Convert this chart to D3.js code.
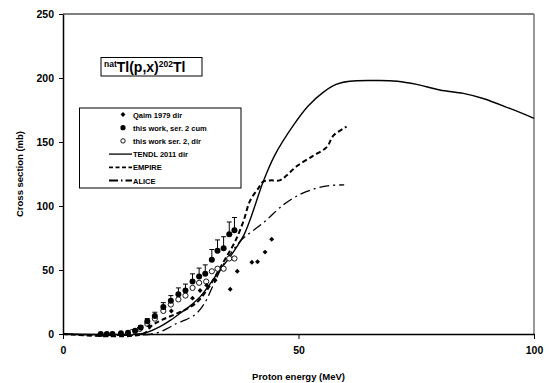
<!DOCTYPE html>
<html>
<head>
<meta charset="utf-8">
<script src="https://cdn.jsdelivr.net/npm/d3@7"></script>
<style>
  body { margin: 0; background: #fff; }
  text { font-family: "Liberation Sans", Arial, sans-serif; font-weight: bold; }
</style>
</head>
<body>
<div id="chart"></div>
<script>
// Qaim 1979 dir: [energy MeV, cross section mb]
const qaim = [
  [18.3, 6], [23, 18], [27.5, 28], [29.1, 34], [30.5, 38], [32.3, 42],
  [35.5, 35], [37, 49], [40.1, 56], [41.3, 56.5], [42.9, 64], [44.3, 74]
];
// this work, ser. 2 cum: [energy, cross section, uncertainty]
const cumData = [
  [8.0, 0, 0], [9.3, 0, 0], [10.5, 0, 0], [12.3, 0.5, 0], [13.8, 1, 0.5],
  [15.3, 2.5, 1], [16.5, 5, 1.5], [17.9, 10, 2], [19.5, 14, 3], [21.3, 21, 3.5],
  [22.9, 26, 4], [24.5, 31, 5], [26, 34, 5], [27.5, 41, 6], [28.9, 45, 6.5],
  [30.2, 47, 7], [31.6, 58, 8], [32.8, 65, 8.5], [34.1, 67, 9], [35.3, 78, 9.5],
  [36.4, 81, 10]
];
// this work ser. 2, dir
const dirData = [
  [14.6, 1.5], [16.3, 4], [17.9, 8], [19.5, 12], [21.3, 18], [22.9, 23],
  [24.5, 27], [26, 30], [27.5, 36], [28.9, 40], [30.4, 41], [31.6, 49],
  [32.8, 51], [34.1, 51], [35.3, 59], [36.4, 59]
];
// TENDL 2011 dir
const tendl = [
  [0, 0], [16, 0], [18, 1.5], [20.6, 5.7], [22.5, 10], [24.8, 16], [27, 22],
  [29.1, 29], [31, 38], [33.3, 50], [35, 58], [36.9, 68], [38.5, 78], [39.7, 89],
  [41, 103], [42.5, 119], [45, 140], [48.9, 163], [52, 178], [55.3, 189],
  [58, 195], [60.9, 197.5], [66.6, 198], [71, 197.5], [75.1, 195], [80, 190.6],
  [85, 188], [89.2, 184], [95, 176], [100, 168.5]
];
// EMPIRE
const empire = [
  [0, 0], [17, 0], [19, 7], [21, 11], [23.5, 15], [26, 19], [28.5, 25], [30.5, 34],
  [32.5, 46], [34.5, 59], [36.5, 72], [38.3, 88], [39.7, 104], [41.5, 114],
  [42.5, 119], [44, 120], [46, 120], [47.5, 124], [49.6, 131], [53, 139],
  [56, 146], [57.4, 155], [60.2, 162]
];
// ALICE
const alice = [
  [0, 0], [19, 0], [22, 4], [24, 8], [26, 11], [28, 15], [29.5, 21], [30.5, 27],
  [32, 39], [34, 54], [36, 65], [38, 74], [39.7, 79], [41.5, 84], [43.2, 89],
  [46.8, 101], [50.3, 109], [53.9, 114], [56.7, 116], [59.7, 116.5]
];

const xTicks = [0, 50, 100];
const yTicks = [0, 50, 100, 150, 200, 250];

const legendItems = [
  { label: "Qaim 1979 dir", kind: "diamond" },
  { label: "this work, ser. 2 cum", kind: "filled" },
  { label: "this work ser. 2, dir", kind: "open" },
  { label: "TENDL 2011 dir", kind: "line", dash: null },
  { label: "EMPIRE", kind: "line", dash: "4,2.5" },
  { label: "ALICE", kind: "line", dash: "9,3,1.5,3" }
];

const margin = { top: 14, right: 16, bottom: 49, left: 63 };
const W = 550, H = 383;
const width = W - margin.left - margin.right;
const height = H - margin.top - margin.bottom;

const svg = d3.select("#chart").append("svg")
  .attr("width", W)
  .attr("height", H);

const g = svg.append("g")
  .attr("transform", `translate(${margin.left},${margin.top})`);

const x = d3.scaleLinear().domain([0, 100]).range([0, width]);
const y = d3.scaleLinear().domain([0, 250]).range([height, 0]);

// frame (top + right)
g.append("line").attr("x1", 0).attr("x2", width).attr("y1", 0).attr("y2", 0)
  .attr("stroke", "#000").attr("stroke-width", 1);
g.append("line").attr("x1", width).attr("x2", width).attr("y1", 0).attr("y2", height)
  .attr("stroke", "#777").attr("stroke-width", 1.5);

// axes
const xAxis = g.append("g")
  .attr("transform", `translate(0,${height})`)
  .call(d3.axisBottom(x).tickValues(xTicks).tickSize(5).tickSizeOuter(0));
const yAxis = g.append("g")
  .call(d3.axisLeft(y).tickValues(yTicks).tickSize(4).tickSizeOuter(0));

[xAxis, yAxis].forEach(a => {
  a.select(".domain").attr("stroke", "#000").attr("stroke-width", 1.5);
  a.selectAll(".tick line").attr("stroke", "#000").attr("stroke-width", 1);
  a.selectAll("text")
    .attr("font-size", "10.5px")
    .attr("font-family", "Liberation Sans, Arial, sans-serif")
    .attr("font-weight", "bold")
    .attr("fill", "#000");
});
xAxis.selectAll("text").attr("dy", "1.15em");
yAxis.selectAll("text").attr("x", -9);

// axis labels
svg.append("text")
  .attr("x", margin.left + width / 2)
  .attr("y", 380)
  .attr("text-anchor", "middle")
  .style("font-size", "9.5px")
  .text("Proton energy (MeV)");

svg.append("text")
  .attr("transform", `translate(23,${margin.top + height / 2}) rotate(-90)`)
  .attr("text-anchor", "middle")
  .style("font-size", "9.5px")
  .text("Cross section (mb)");

// curves
const line = d3.line()
  .x(d => x(d[0]))
  .y(d => y(d[1]))
  .curve(d3.curveCatmullRom.alpha(0.5));

g.append("path").datum(tendl)
  .attr("d", line).attr("fill", "none").attr("stroke", "#000").attr("stroke-width", 1.4);
g.append("path").datum(empire)
  .attr("d", line).attr("fill", "none").attr("stroke", "#000").attr("stroke-width", 2)
  .attr("stroke-dasharray", "5,3");
g.append("path").datum(alice)
  .attr("d", line).attr("fill", "none").attr("stroke", "#000").attr("stroke-width", 1.3)
  .attr("stroke-dasharray", "10,4,2,4");

// error bars (cum data, upper half visible as in the original)
const eb = g.selectAll("g.err").data(cumData.filter(d => d[2] > 0)).join("g").attr("class", "err");
eb.append("line")
  .attr("x1", d => x(d[0])).attr("x2", d => x(d[0]))
  .attr("y1", d => y(d[1])).attr("y2", d => y(d[1] + d[2]))
  .attr("stroke", "#000").attr("stroke-width", 1);
eb.append("line")
  .attr("x1", d => x(d[0]) - 2.5).attr("x2", d => x(d[0]) + 2.5)
  .attr("y1", d => y(d[1] + d[2])).attr("y2", d => y(d[1] + d[2]))
  .attr("stroke", "#000").attr("stroke-width", 1);

// open circles
g.selectAll("circle.dir").data(dirData).join("circle").attr("class", "dir")
  .attr("cx", d => x(d[0])).attr("cy", d => y(d[1])).attr("r", 2.6)
  .attr("fill", "#fff").attr("stroke", "#000").attr("stroke-width", 0.9);

// filled circles
g.selectAll("circle.cum").data(cumData).join("circle").attr("class", "cum")
  .attr("cx", d => x(d[0])).attr("cy", d => y(d[1])).attr("r", 3)
  .attr("fill", "#000");

// diamonds (rotated squares)
const diamond = d3.symbol().type(d3.symbolSquare).size(12);
g.selectAll("path.qaim").data(qaim).join("path").attr("class", "qaim")
  .attr("d", diamond)
  .attr("transform", d => `translate(${x(d[0])},${y(d[1])}) rotate(45)`)
  .attr("fill", "#000");

// title box
const tb = svg.append("g");
tb.append("rect").attr("x", 101).attr("y", 57.5).attr("width", 101).attr("height", 18.5)
  .attr("fill", "#fff").attr("stroke", "#000").attr("stroke-width", 1);
const tt = tb.append("text").attr("x", 104).attr("y", 72).style("font-size", "14px");
tt.append("tspan").attr("dy", -5).style("font-size", "8.5px").text("nat");
tt.append("tspan").attr("dy", 5).text("Tl(p,x)");
tt.append("tspan").attr("dy", -5).style("font-size", "8.5px").text("202");
tt.append("tspan").attr("dy", 5).text("Tl");

// legend
const lg = svg.append("g");
lg.append("rect").attr("x", 79.5).attr("y", 108).attr("width", 161.5).attr("height", 80)
  .attr("fill", "#fff").attr("stroke", "#000").attr("stroke-width", 1);
legendItems.forEach((it, i) => {
  const cy = 114.5 + i * 13.2;
  if (it.kind === "line") {
    const ln = lg.append("line").attr("x1", 109).attr("x2", 132).attr("y1", cy).attr("y2", cy)
      .attr("stroke", "#000").attr("stroke-width", it.dash ? 1.8 : 1.3);
    if (it.dash) ln.attr("stroke-dasharray", it.dash);
  } else if (it.kind === "diamond") {
    lg.append("path").attr("d", diamond).attr("transform", `translate(123,${cy}) rotate(45)`).attr("fill", "#000");
  } else if (it.kind === "filled") {
    lg.append("circle").attr("cx", 123).attr("cy", cy).attr("r", 2.6).attr("fill", "#000");
  } else {
    lg.append("circle").attr("cx", 123).attr("cy", cy).attr("r", 2.2)
      .attr("fill", "#fff").attr("stroke", "#000").attr("stroke-width", 0.9);
  }
  lg.append("text").attr("x", 133).attr("y", cy + 3).style("font-size", "7.5px").text(it.label);
});
</script>
</body>
</html>
